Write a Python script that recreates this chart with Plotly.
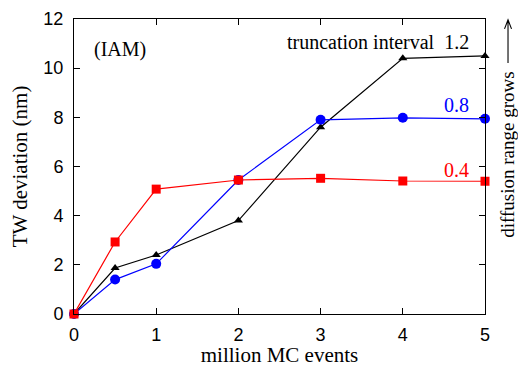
import plotly.graph_objects as go

x = [0, 0.5, 1, 2, 3, 4, 5]
red_04 = [0, 2.93, 5.08, 5.45, 5.52, 5.41, 5.40]
blue_08 = [0, 1.40, 2.04, 5.45, 7.90, 7.98, 7.94]
black_12 = [0, 1.87, 2.40, 3.80, 7.60, 10.40, 10.50]

serif = "Liberation Serif, Times New Roman, serif"
sans = "Liberation Sans, Arial, sans-serif"

fig = go.Figure()
fig.add_trace(go.Scatter(x=x, y=black_12, mode="lines+markers",
                         line=dict(color="black", width=1.2),
                         marker=dict(symbol="triangle-up", size=8, color="black"),
                         cliponaxis=False, showlegend=False))
fig.add_trace(go.Scatter(x=x, y=blue_08, mode="lines+markers",
                         line=dict(color="blue", width=1.2),
                         marker=dict(symbol="circle", size=10, color="blue"),
                         cliponaxis=False, showlegend=False))
fig.add_trace(go.Scatter(x=x, y=red_04, mode="lines+markers",
                         line=dict(color="red", width=1.2),
                         marker=dict(symbol="square", size=9, color="red"),
                         cliponaxis=False, showlegend=False))

axis_common = dict(showgrid=False, zeroline=False, showline=True, linecolor="black",
                   linewidth=1, mirror="ticks", ticks="inside", ticklen=6,
                   tickcolor="black", automargin=False,
                   tickfont=dict(family=sans, size=18, color="black"))

fig.update_xaxes(range=[0, 5], dtick=1, ticklabelstandoff=4,
                 title=dict(text="million MC events",
                            font=dict(family=serif, size=21, color="black"), standoff=4),
                 **axis_common)
fig.update_yaxes(range=[0, 12], dtick=2, ticklabelstandoff=6,
                 title=dict(text="TW deviation (nm)",
                            font=dict(family=serif, size=21, color="black"), standoff=10),
                 **axis_common)

fig.add_annotation(x=0.22, y=10.74, xref="x", yref="y", text="(IAM)", showarrow=False,
                   xanchor="left", font=dict(family=serif, size=20, color="black"))
fig.add_annotation(x=4.83, y=11.07, xref="x", yref="y", text="truncation interval&nbsp;&nbsp;1.2",
                   showarrow=False, xanchor="right", font=dict(family=serif, size=20, color="black"))
fig.add_annotation(x=4.83, y=8.5, xref="x", yref="y", text="0.8",
                   showarrow=False, xanchor="right", font=dict(family=serif, size=20, color="blue"))
fig.add_annotation(x=4.83, y=5.86, xref="x", yref="y", text="0.4",
                   showarrow=False, xanchor="right", font=dict(family=serif, size=20, color="red"))

fig.add_annotation(x=1.056, y=0.54, xref="paper", yref="paper", text="diffusion range grows",
                   textangle=-90, showarrow=False, xanchor="center", yanchor="middle",
                   font=dict(family=serif, size=19, color="black"))
# upward arrow above the rotated label (open V head, as in the reference)
fig.add_shape(type="path", xref="paper", yref="paper", xsizemode="pixel", ysizemode="pixel",
              xanchor=1.056, yanchor=0.997,
              path="M 0 0 L 0 -43 M -3.5 -9 L 0 0 L 3.5 -9",
              line=dict(color="black", width=1.1))

fig.update_layout(width=518, height=367, margin=dict(l=74, r=33, t=19, b=53),
                  plot_bgcolor="white", paper_bgcolor="white")

# remove the browser's default body margin so the figure fills the window exactly
fig.write_html("out.html", config={"displayModeBar": False},
               post_script="document.body.style.margin='0';document.body.style.overflow='hidden';")
